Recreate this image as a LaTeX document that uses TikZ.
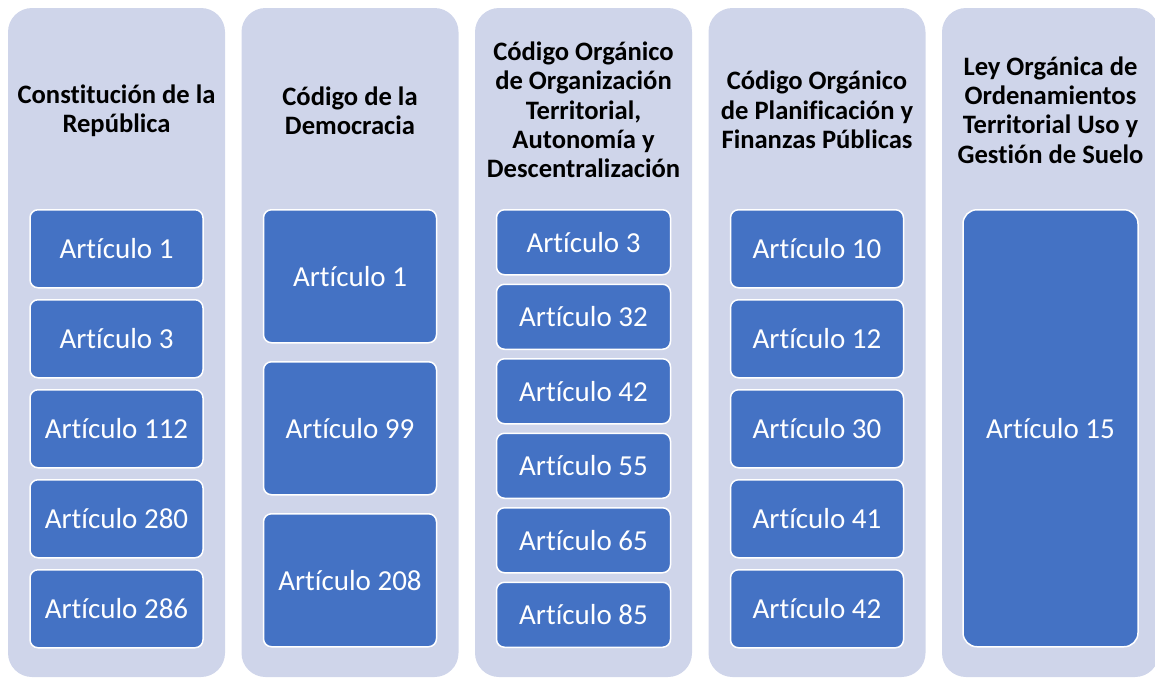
\documentclass[tikz,border=0pt]{standalone}
\usepackage{fontspec}
\setmainfont{Carlito}[Ligatures=NoCommon]
\definecolor{colbg}{HTML}{CFD5EA}
\definecolor{boxbl}{HTML}{4472C4}
\tikzset{
  colpanel/.style={fill=colbg, draw=none, rounded corners=24pt},
  art/.style={fill=boxbl, draw=white, line width=1.5pt, rounded corners=8pt, text=white,
    font=\fontsize{29}{35}\selectfont, inner sep=0pt, anchor=north},
  head/.style={font=\fontsize{26.6}{29.3}\selectfont\bfseries, align=center, text=black, inner sep=0pt},
}
\begin{document}
\begin{tikzpicture}[x=1pt,y=-1pt]
\useasboundingbox (0,0) rectangle (1155,678);
\clip (0,0) rectangle (1155,678);
% column panels
\foreach \i/\cx in {1/116.5,2/350,3/583.5,4/817,5/1050.5}{
  \fill[colpanel] (\cx-108.5,8) rectangle (\cx+108.5,677);
}
% headers
\node[head] (h1) at (116.5,111) {Constitución de la\\República};
\node[head] (h2) at (350,111) {Código de la\\Democracia};
\node[head] (h3) at (583.5,110) {Código Orgánico\\de Organización\\Territorial,\\Autonomía y\\Descentralización};
\node[head] (h4) at (817,110) {Código Orgánico\\de Planificación y\\Finanzas Públicas};
\node[head] (h5) at (1050.5,110) {Ley Orgánica de\\Ordenamientos\\Territorial Uso y\\Gestión de Suelo};
% column 1
\foreach \n/\t in {1/1,2/3,3/112,4/280,5/286}{
  \node[art, minimum width=173pt, minimum height=78pt] (a\n) at (116.5,{209+90*(\n-1)}) {Artículo \t};
}
% column 2
\foreach \n/\t in {1/1,2/99,3/208}{
  \node[art, minimum width=173pt, minimum height=133pt] (b\n) at (350,{209+152*(\n-1)}) {Artículo \t};
}
% column 3
\foreach \n/\t in {1/3,2/32,3/42,4/55,5/65,6/85}{
  \node[art, minimum width=174pt, minimum height=65pt] (c\n) at (583.5,{209+74.5*(\n-1)}) {Artículo \t};
}
% column 4
\foreach \n/\t in {1/10,2/12,3/30,4/41,5/42}{
  \node[art, minimum width=173pt, minimum height=78pt] (d\n) at (817,{209+90*(\n-1)}) {Artículo \t};
}
% column 5
\node[art, minimum width=175pt, minimum height=437pt, rounded corners=14pt] (e1) at (1050.5,209) {Artículo 15};
\end{tikzpicture}
\end{document}
